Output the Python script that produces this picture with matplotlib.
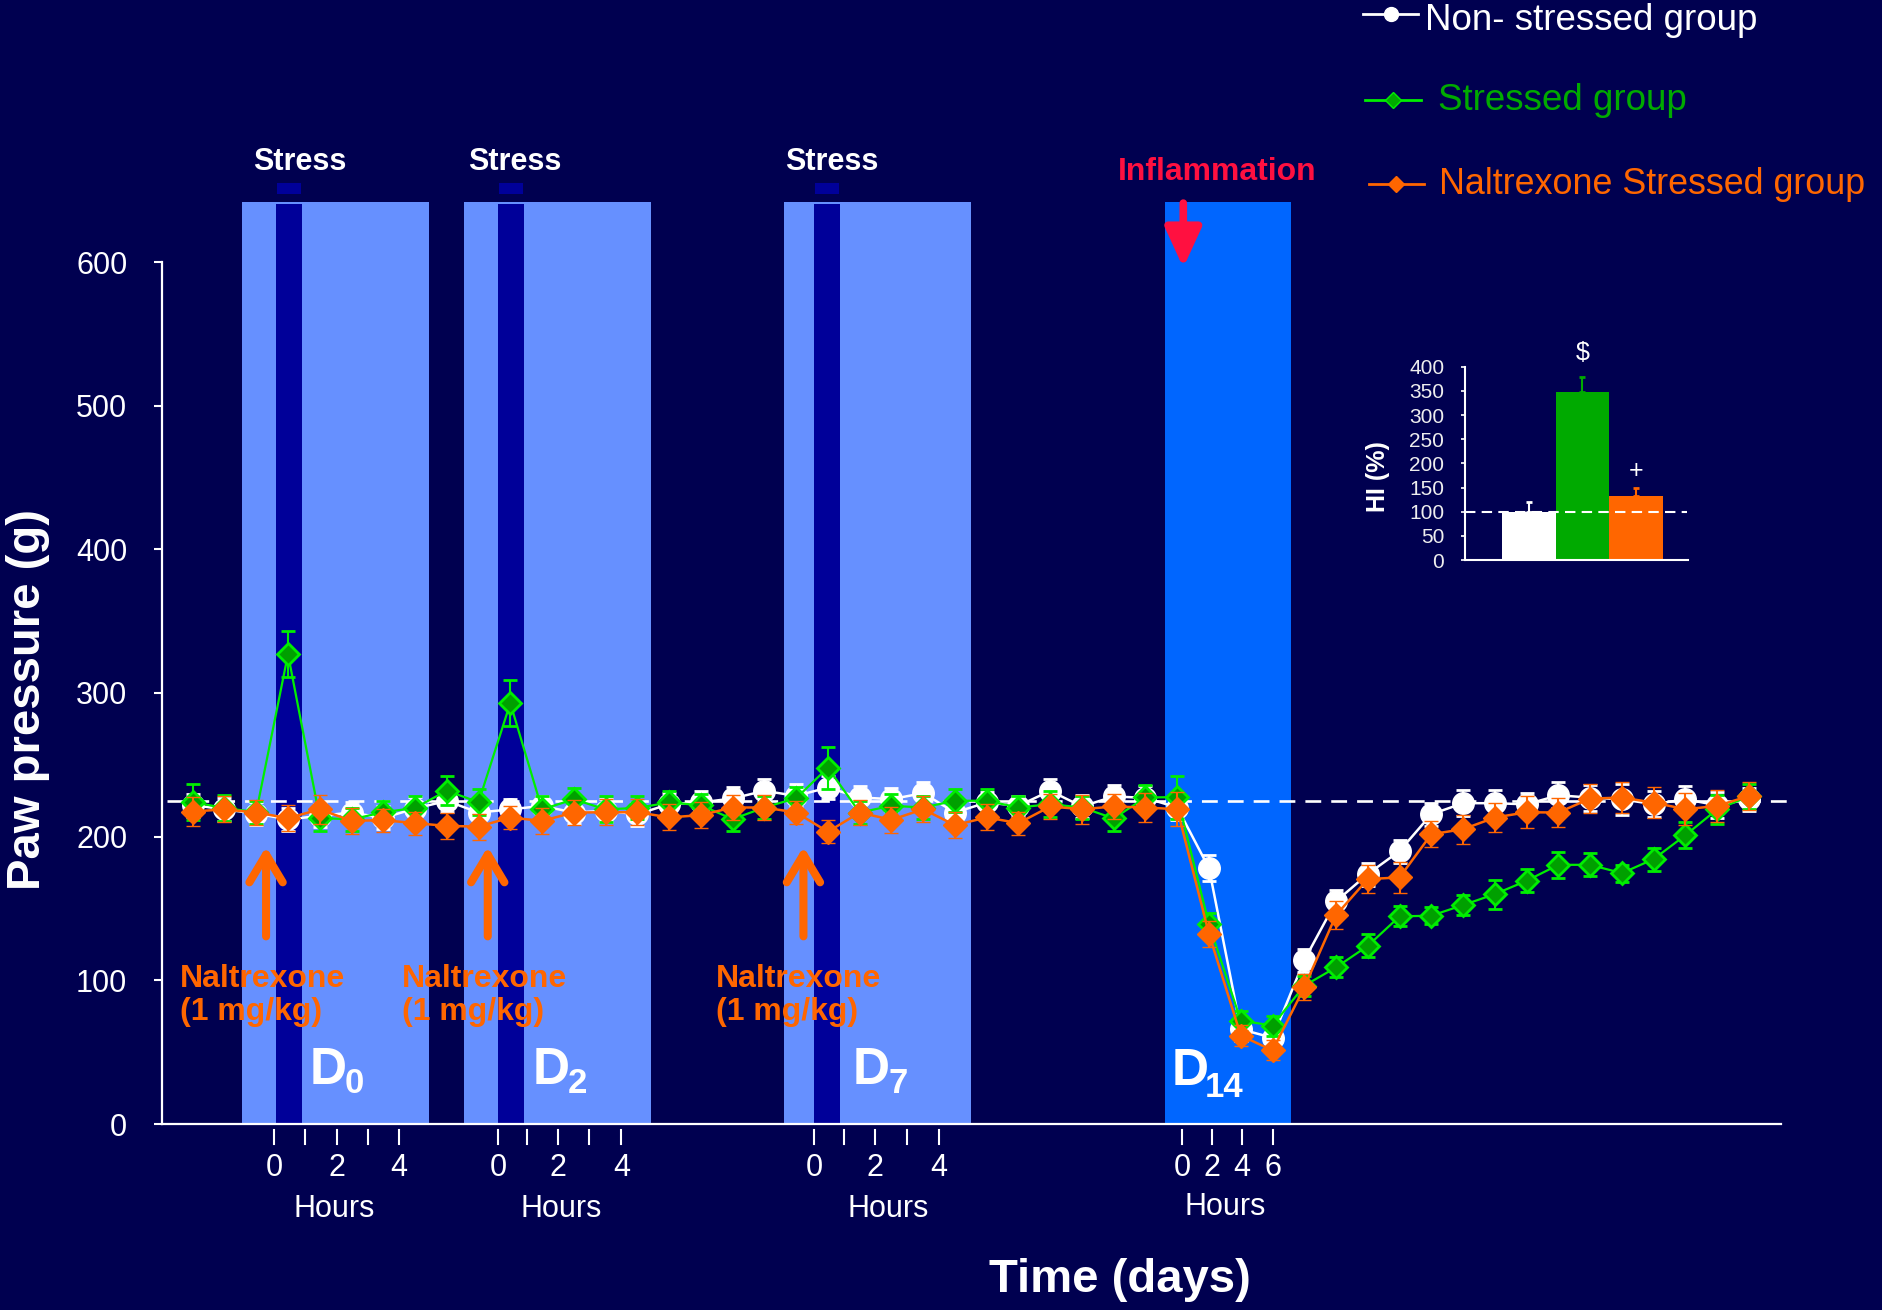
import matplotlib
matplotlib.use("Agg")
import matplotlib.pyplot as plt
from matplotlib.patches import Rectangle, FancyArrowPatch
from matplotlib.lines import Line2D
import matplotlib.transforms as mtransforms
import numpy as np

plt.rcParams['font.family'] = ['Liberation Sans', 'DejaVu Sans']

# ---------------- data ----------------
n_points = 50
x_idx = list(range(n_points))

non_stressed = [222, 219, 216, 212, 214.5, 216.8, 213, 219.6, 224.9, 216.8,
                219, 221.4, 216.8, 218, 215.6, 222.6, 223.8, 226.6, 231.9, 228.4,
                234.2, 227.3, 226.1, 230.3, 216.8, 223.8, 221.5, 231.9, 221, 228,
                227, 220.3, 178, 66, 60, 114, 155, 174, 190, 215.6,
                223.3, 223.3, 222.5, 228.8, 227.2, 226, 222.6, 226, 221.9, 226]
non_stressed_err = [8, 8, 8, 8, 8, 7, 8, 8, 8, 7,
                    7, 7, 8, 8, 8, 8, 8, 8, 8, 8,
                    8, 8, 8, 8, 8, 7, 7, 8, 8, 8,
                    8, 9, 9, 8, 8, 8, 8, 8, 8, 8,
                    9, 9, 8, 9, 9, 11, 9, 9, 9, 8]

stressed = [224, 220, 217, 327, 213, 212, 217, 220, 232, 224,
            293, 219, 226, 219, 220, 223.8, 221.9, 212.2, 220.3, 226.8,
            248, 216.8, 221.5, 220.3, 225, 225, 220.3, 222.6, 220.3, 212.7,
            227.3, 227.5, 139, 72, 68.5, 96.3, 109, 124, 144.5, 145,
            152.4, 160, 169.3, 180.4, 180.4, 174.6, 184.4, 201, 219, 228]
stressed_err = [12.7, 9, 8, 16, 9, 8, 8, 8, 10, 9,
                16, 9, 8, 9, 8, 8, 8, 8, 8, 8,
                14.6, 8, 8, 8, 8, 8, 8, 9, 8, 9,
                9, 15, 8, 7, 7, 7, 7, 8, 7, 6,
                7, 10, 8, 9, 8, 6, 8, 9, 10, 9]

naltrexone = [217.5, 219, 216.8, 212.9, 219, 211, 211.5, 209.4, 207.5, 207,
              213.3, 211, 216.8, 217, 217, 213.4, 215, 220.3, 220.3, 216.8,
              203.4, 216.8, 211.7, 219.1, 208, 213.4, 209.4, 221, 219.1, 221,
              220.3, 219.1, 132.2, 61.6, 51.2, 95.1, 145.4, 170.5, 171.6, 201.7,
              205.2, 213.3, 217, 216.8, 226.5, 227.2, 223.7, 219.1, 221.4, 228.3]
naltrexone_err = [10, 9, 9, 9, 10, 9, 8, 8, 9, 9,
                  8, 9, 9, 9, 9, 9, 9, 9, 9, 8,
                  8, 9, 9, 9, 9, 9, 8, 9, 10, 9,
                  10, 12, 9, 7, 7, 9, 10, 10, 11, 9,
                  10, 10, 11, 10, 10, 11, 11, 11, 11, 10]

baseline_value = 224.5

y_ticks = [0, 100, 200, 300, 400, 500, 600]

hour_tick_pos = [2.56, 3.52, 4.53, 5.52, 6.49,
                 9.61, 10.53, 11.49, 12.48, 13.5,
                 19.57, 20.51, 21.47, 22.49, 23.5,
                 31.16, 32.08, 33.04, 34.03]
hour_tick_labels = ['0', '', '2', '', '4',
                    '0', '', '2', '', '4',
                    '0', '', '2', '', '4',
                    '0', '2', '4', '6']
hours_label_pos = [4.44, 11.6, 21.9, 32.5]

# inset
hi_groups = ['Non-stressed', 'Stressed', 'Naltrexone']
hi_values = [100, 347, 132]
hi_err = [19, 31, 18]
hi_marks = ['', '$', '+']
hi_ticks = [0, 50, 100, 150, 200, 250, 300, 350, 400]

# ---------------- style ----------------
BG = '#000050'
LIGHT = '#6690FF'
DARK = '#000099'
D14C = '#0066FF'
WHITE = '#FFFFFF'
GREEN_L = '#00EE00'
GREEN_F = '#00A000'
ORANGE = '#FF6600'
RED = '#FF1040'

W, H = 1883, 1310
fig = plt.figure(figsize=(W / 100, H / 100), dpi=100, facecolor=BG)


def fx(px):
    return px / W


def fy(py):
    return 1 - py / H


ax = fig.add_axes([fx(162), fy(1124), fx(1781) - fx(162), fy(262) - fy(1124)])
ax.set_facecolor(BG)
ax.set_xlim(-0.967, 50.01)
ax.set_ylim(0, 600)

# shaded periods
light_spans = [(1.55, 7.44), (8.54, 14.43), (18.62, 24.5)]
dark_spans = [(2.62, 3.44), (9.61, 10.43), (19.56, 20.38)]
for a, b in light_spans:
    ax.add_patch(Rectangle((a, 0), b - a, 641.8, facecolor=LIGHT, edgecolor='none',
                           zorder=0.5, clip_on=False))
for a, b in dark_spans:
    ax.add_patch(Rectangle((a, 0), b - a, 640.5, facecolor=DARK, edgecolor='none',
                           zorder=0.6, clip_on=False))
    ax.add_patch(Rectangle((a + 0.03, 647), b - a - 0.06, 8, facecolor=DARK,
                           edgecolor='none', zorder=0.6, clip_on=False))
ax.add_patch(Rectangle((30.61, 0), 34.58 - 30.61, 641.8, facecolor=D14C,
                       edgecolor='none', zorder=0.5, clip_on=False))

# baseline dashed line
ax.plot([-0.8, 50.3], [baseline_value, baseline_value], color=WHITE, lw=1.9,
        dashes=(6, 3.8), zorder=1, clip_on=False)

# series
ax.errorbar(x_idx, non_stressed, yerr=non_stressed_err, fmt='-o', color=WHITE,
            ecolor=WHITE, lw=1.8, ms=15.5, mfc=WHITE, mec=WHITE, elinewidth=1.5,
            capsize=4.7, capthick=2, zorder=3)
ax.errorbar(x_idx, stressed, yerr=stressed_err, fmt='-D', color=GREEN_L,
            ecolor=GREEN_L, lw=1.6, ms=11.5, mfc=GREEN_F, mec=GREEN_L, mew=2,
            elinewidth=1.5, capsize=4.7, capthick=2, zorder=4)
ax.errorbar(x_idx, naltrexone, yerr=naltrexone_err, fmt='-D', color=ORANGE,
            ecolor=ORANGE, lw=1.8, ms=12.5, mfc=ORANGE, mec=ORANGE, mew=1,
            elinewidth=1.5, capsize=4.7, capthick=2, zorder=5)

# axes styling
for s in ['top', 'right']:
    ax.spines[s].set_visible(False)
for s in ['left', 'bottom']:
    ax.spines[s].set_color(WHITE)
    ax.spines[s].set_linewidth(1.6)
ax.spines['left'].set_zorder(6)
ax.spines['bottom'].set_zorder(6)
ax.set_yticks(y_ticks)
ax.set_yticklabels([str(v) for v in y_ticks])
ax.tick_params(axis='y', colors=WHITE, length=6, width=1.5, labelsize=22, pad=19)
ax.set_xticks([])

# hour ticks (detached below axis)
trans = mtransforms.blended_transform_factory(ax.transData, ax.transAxes)
axh = 1124 - 262
for p, lab in zip(hour_tick_pos, hour_tick_labels):
    ax.plot([p, p], [-(1130 - 1124) / axh, -(1144 - 1124) / axh], color=WHITE,
            lw=1.5, transform=trans, clip_on=False)
    if lab:
        ax.text(p, -(1168 - 1124) / axh, lab, color=WHITE, fontsize=22,
                ha='center', va='center', transform=trans)
for i, p in enumerate(hours_label_pos):
    yy = 1206.7 if i == 3 else 1209
    ax.text(p, -(yy - 1124) / axh, 'Hours', color=WHITE, fontsize=22,
            ha='center', va='center', transform=trans)

# axis titles
fig.text(fx(1120), fy(1280), 'Time (days)', color=WHITE, fontsize=34,
         fontweight='bold', ha='center', va='center')
fig.text(fx(28), fy(699), 'Paw pressure (g)', color=WHITE, fontsize=34,
         fontweight='bold', ha='center', va='center', rotation=90)

# stress labels
for px in [300, 515, 832]:
    fig.text(fx(px), fy(161.5), 'Stress', color=WHITE, fontsize=22,
             fontweight='bold', ha='center', va='center')
fig.text(fx(1217), fy(172), 'Inflammation', color=RED, fontsize=23,
         fontweight='bold', ha='center', va='center')

# inflammation arrow
ax.add_patch(FancyArrowPatch((31.19, 641), (31.19, 596),
                             arrowstyle='-|>,head_length=24,head_width=11',
                             mutation_scale=1, color=RED, lw=5.5,
                             clip_on=False, zorder=7, shrinkA=0, shrinkB=0))

# naltrexone arrows & labels
for xa in [2.31, 9.29, 19.23]:
    ax.add_patch(FancyArrowPatch((xa, 130.6), (xa, 193),
                                 arrowstyle='->,head_length=20,head_width=12',
                                 mutation_scale=1, color=ORANGE, lw=5.8,
                                 capstyle='round', joinstyle='round',
                                 clip_on=False, zorder=7, shrinkA=0, shrinkB=0))
for px in [180, 402, 716]:
    fig.text(fx(px), fy(979), 'Naltrexone', color=ORANGE, fontsize=23,
             fontweight='bold', ha='left', va='center')
    fig.text(fx(px), fy(1012), '(1 mg/kg)', color=ORANGE, fontsize=23,
             fontweight='bold', ha='left', va='center')

# D labels
for dpx, sub, subpx, dbase, sbase in [(310, '0', 345, 1084, 1093),
                                       (533, '2', 568, 1084, 1093),
                                       (853, '7', 888, 1084, 1093),
                                       (1172, '14', 1205, 1085, 1097)]:
    fig.text(fx(dpx), fy(dbase), 'D', color=WHITE, fontsize=37,
             fontweight='bold', ha='left', va='baseline')
    fig.text(fx(subpx), fy(sbase), sub, color=WHITE, fontsize=25,
             fontweight='bold', ha='left', va='baseline')

# legend (manual)
leg = [('Non- stressed group', WHITE, 'o', WHITE, WHITE, 1363, 1418, 14.3, 1425, 30, WHITE, 26.5),
       ('Stressed group', GREEN_L, 'D', '#00AA00', GREEN_L, 1365, 1421, 100, 1438, 110.5, '#00AA00', 26.5),
       ('Naltrexone Stressed group', ORANGE, 'D', ORANGE, ORANGE, 1369, 1424, 183.7, 1439, 194, ORANGE, 25.8)]
for text, lc, mk, mf, me, x0, x1, ly, tx, tb, tc, fs in leg:
    fig.add_artist(Line2D([fx(x0), fx(x1)], [fy(ly), fy(ly)], color=lc, lw=2,
                          transform=fig.transFigure))
    fig.add_artist(Line2D([fx((x0 + x1) / 2)], [fy(ly)], marker=mk,
                          ms=10 if mk == 'o' else 8, mfc=mf, mec=me, mew=1,
                          transform=fig.transFigure))
    fig.text(fx(tx), fy(tb), text, color=tc, fontsize=fs, ha='left', va='baseline')

# inset
ax2 = fig.add_axes([fx(1465), fy(560), fx(1688.3) - fx(1465), fy(366.7) - fy(560)])
ax2.set_facecolor('none')
ax2.set_xlim(-1.19, 2.975)
ax2.set_ylim(0, 400)
bar_colors = [WHITE, '#00AA00', ORANGE]
xb = np.arange(len(hi_values))
ax2.bar(xb, hi_values, width=1.0, color=bar_colors, edgecolor='none', zorder=2)
for xi, v, e, c in zip(xb, hi_values, hi_err, bar_colors):
    ax2.errorbar([xi], [v], yerr=[[0], [e]], fmt='none', ecolor=c, elinewidth=1.5,
                 capsize=2.5, capthick=2, zorder=3)
for xi, v, e, m in zip(xb, hi_values, hi_err, hi_marks):
    if m:
        ax2.text(xi, v + e + (50 if m == '$' else 34), m, color=WHITE, fontsize=18,
                 ha='center', va='center')
ax2.plot([-1.19, 2.95], [99, 99], color=WHITE, lw=1.5, dashes=(5, 3), zorder=4,
         clip_on=False)
for s in ['top', 'right']:
    ax2.spines[s].set_visible(False)
for s in ['left', 'bottom']:
    ax2.spines[s].set_color(WHITE)
    ax2.spines[s].set_linewidth(1.5)
ax2.set_xticks([])
ax2.set_yticks(hi_ticks)
ax2.set_yticklabels([str(v) for v in hi_ticks])
ax2.tick_params(axis='y', colors=WHITE, length=3, width=1.2, labelsize=15, pad=12)
for lab in ax2.get_yticklabels():
    lab.set_color('#EEEEEE')
fig.text(fx(1378), fy(477), 'HI (%)', color=WHITE, fontsize=18, fontweight='bold',
         ha='center', va='center', rotation=90)

fig.savefig('out.png', dpi=100, facecolor=BG)
